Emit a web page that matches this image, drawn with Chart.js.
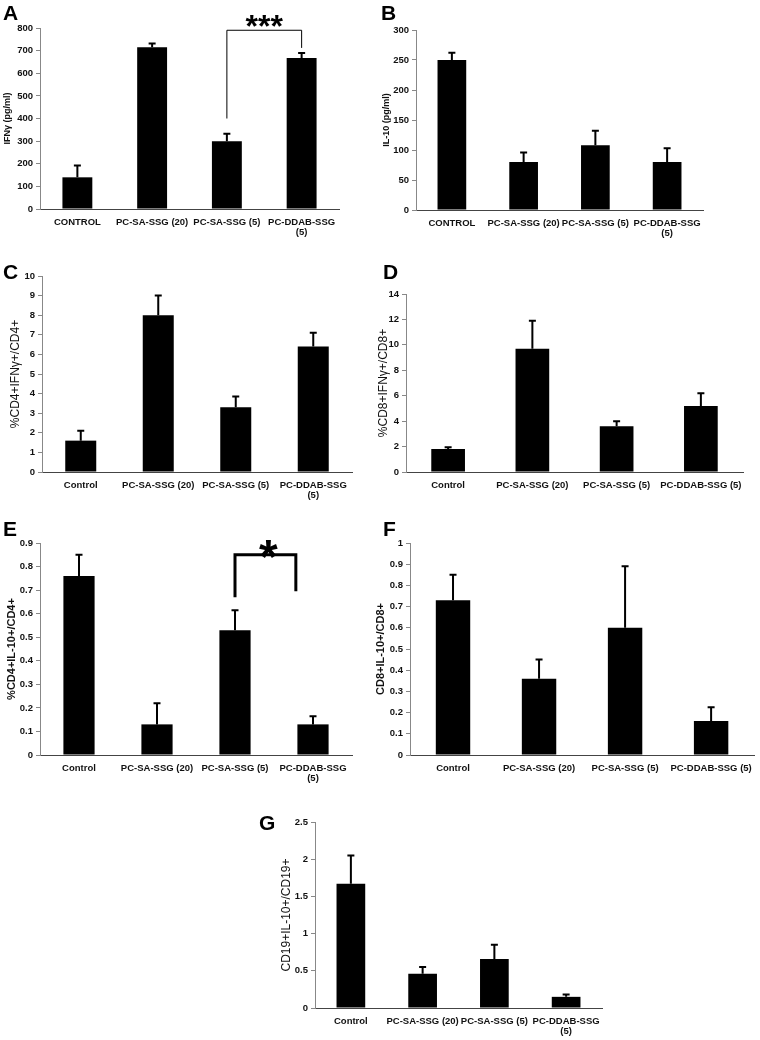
<!doctype html>
<html>
<head>
<script src="https://cdn.jsdelivr.net/npm/chart.js@4.4.0/dist/chart.umd.min.js"></script>
<style>
  body { margin:0; background:#fff; width:760px; height:1040px; position:relative; overflow:hidden;
         font-family:"Liberation Sans", Arial, sans-serif; }
  canvas { position:absolute; }
  .lt { position:absolute; font-weight:bold; font-size:21px; line-height:1; color:#000; z-index:2; }
</style>
</head>
<body>
<div class="lt" style="left:3px;top:2px">A</div>
<div class="lt" style="left:381px;top:2px">B</div>
<div class="lt" style="left:3px;top:261px">C</div>
<div class="lt" style="left:383px;top:261px">D</div>
<div class="lt" style="left:3px;top:518px">E</div>
<div class="lt" style="left:383px;top:518px">F</div>
<div class="lt" style="left:259px;top:812px">G</div>

<canvas id="cA" width="345" height="250" style="left:0;top:0"></canvas>
<canvas id="cB" width="330" height="250" style="left:380px;top:0"></canvas>
<canvas id="cC" width="365" height="255" style="left:0;top:258px"></canvas>
<canvas id="cD" width="384" height="255" style="left:376px;top:258px"></canvas>
<canvas id="cE" width="365" height="280" style="left:0;top:515px"></canvas>
<canvas id="cF" width="386" height="280" style="left:374px;top:515px"></canvas>
<canvas id="cG" width="360" height="235" style="left:255px;top:805px"></canvas>

<script>
// categories
const catsCaps  = ['CONTROL', 'PC-SA-SSG (20)', 'PC-SA-SSG (5)', ['PC-DDAB-SSG', '(5)']];
const catsWrap  = ['Control', 'PC-SA-SSG (20)', 'PC-SA-SSG (5)', ['PC-DDAB-SSG', '(5)']];
const catsFlat  = ['Control', 'PC-SA-SSG (20)', 'PC-SA-SSG (5)', 'PC-DDAB-SSG (5)'];

// means and upper error (SD) per panel
const ifnVals   = [140, 715, 300, 667];
const ifnErr    = [52, 17, 33, 23];
const il10Vals  = [250, 80, 108, 80];
const il10Err   = [12, 16, 24, 23];
const cd4IfnVals = [1.6, 8.0, 3.3, 6.4];
const cd4IfnErr  = [0.5, 1.0, 0.55, 0.7];
const cd8IfnVals = [1.8, 9.7, 3.6, 5.2];
const cd8IfnErr  = [0.15, 2.2, 0.4, 1.0];
const cd4Il10Vals = [0.76, 0.13, 0.53, 0.13];
const cd4Il10Err  = [0.09, 0.09, 0.085, 0.035];
const cd8Il10Vals = [0.73, 0.36, 0.60, 0.16];
const cd8Il10Err  = [0.12, 0.09, 0.29, 0.065];
const cd19Il10Vals = [1.67, 0.46, 0.66, 0.15];
const cd19Il10Err  = [0.38, 0.09, 0.19, 0.03];

Chart.defaults.font.family = '"Liberation Sans", Arial, sans-serif';
Chart.defaults.color = '#111';

const errPlugin = {
  id: 'errbars',
  afterDatasetsDraw(chart) {
    const ctx = chart.ctx, y = chart.scales.y;
    const ds = chart.data.datasets[0], meta = chart.getDatasetMeta(0);
    ctx.save();
    ctx.strokeStyle = '#000';
    ctx.lineWidth = 2;
    meta.data.forEach((bar, i) => {
      const top = y.getPixelForValue(ds.data[i] + ds.err[i]);
      ctx.beginPath();
      ctx.moveTo(bar.x, bar.y);
      ctx.lineTo(bar.x, top);
      ctx.moveTo(bar.x - 3.5, top);
      ctx.lineTo(bar.x + 3.5, top);
      ctx.stroke();
    });
    ctx.restore();
  }
};

function bracketPlugin(b) {
  return {
    id: 'bracket',
    afterDatasetsDraw(chart) {
      if (!b) return;
      const ctx = chart.ctx, x = chart.scales.x, y = chart.scales.y;
      const x1 = x.getPixelForValue(b.from), x2 = x.getPixelForValue(b.to);
      const yt = y.getPixelForValue(b.top);
      ctx.save();
      ctx.strokeStyle = '#000';
      ctx.lineWidth = b.lw;
      ctx.beginPath();
      ctx.moveTo(x1, y.getPixelForValue(b.leftLow));
      ctx.lineTo(x1, yt);
      ctx.lineTo(x2, yt);
      ctx.lineTo(x2, y.getPixelForValue(b.rightLow));
      ctx.stroke();
      ctx.fillStyle = '#000';
      ctx.font = 'bold ' + b.fs + 'px "Liberation Sans", Arial, sans-serif';
      ctx.textAlign = 'center';
      ctx.fillText(b.text, (x1 + x2) / 2 + b.dx, yt + b.dy);
      ctx.restore();
    }
  };
}

function makeChart(id, o) {
  new Chart(document.getElementById(id), {
    type: 'bar',
    data: {
      labels: o.labels,
      datasets: [{ data: o.values, err: o.errs, backgroundColor: '#000',
                   barPercentage: 0.4, categoryPercentage: 1 }]
    },
    options: {
      responsive: false,
      animation: false,
      layout: { padding: { top: o.top, right: o.right, left: 0, bottom: 0 } },
      plugins: { legend: { display: false }, tooltip: { enabled: false } },
      scales: {
        x: {
          grid: { display: false, drawTicks: false },
          border: { color: '#444', width: 1 },
          ticks: { font: { weight: 'bold', size: 9.5, lineHeight: 1.1 }, maxRotation: 0,
                   autoSkip: false, padding: 8, color: '#111' },
          afterFit(s) { s.height = o.xh; }
        },
        y: {
          min: 0, max: o.max,
          ticks: { stepSize: o.step, font: { weight: 'bold', size: 9.5 }, padding: 3, color: '#111',
                   callback: v => String(Number(v.toFixed(3))) },
          grid: { drawOnChartArea: false, tickLength: 4, color: '#888' },
          border: { color: '#888', width: 1 },
          title: { display: true, text: o.title, font: o.tfont, color: '#111',
                   padding: { top: o.tpad, bottom: 0 } },
          afterFit(s) { s.width = o.yw; }
        }
      }
    },
    plugins: [errPlugin, bracketPlugin(o.bracket)]
  });
}

const small = { size: 9, weight: 'bold' };
const big = { size: 12, weight: 'normal' };
const mid = { size: 11, weight: 'bold' };

makeChart('cA', { labels: catsCaps, values: ifnVals, errs: ifnErr, max: 800, step: 100,
  title: 'IFNγ (pg/ml)', tfont: small, tpad: 2, yw: 40, xh: 41, top: 28, right: 6,
  bracket: { from: 2, to: 3, top: 790, leftLow: 400, rightLow: 712, lw: 1, text: '***', fs: 32, dx: 0, dy: 7 } });

makeChart('cB', { labels: catsCaps, values: il10Vals, errs: il10Err, max: 300, step: 50,
  title: 'IL-10 (pg/ml)', tfont: small, tpad: 1, yw: 36, xh: 40, top: 30, right: 7 });

makeChart('cC', { labels: catsWrap, values: cd4IfnVals, errs: cd4IfnErr, max: 10, step: 1,
  title: '%CD4+IFNγ+/CD4+', tfont: big, tpad: 8, yw: 42, xh: 41, top: 18, right: 13 });

makeChart('cD', { labels: catsFlat, values: cd8IfnVals, errs: cd8IfnErr, max: 14, step: 2,
  title: '%CD8+IFNγ+/CD8+', tfont: big, tpad: 0, yw: 30, xh: 41, top: 36, right: 17 });

makeChart('cE', { labels: catsWrap, values: cd4Il10Vals, errs: cd4Il10Err, max: 0.9, step: 0.1,
  title: '%CD4+IL-10+/CD4+', tfont: mid, tpad: 5, yw: 40, xh: 40, top: 28, right: 13,
  bracket: { from: 2, to: 2.78, top: 0.85, leftLow: 0.67, rightLow: 0.695, lw: 3, text: '*', fs: 48, dx: 3, dy: 18 } });

makeChart('cF', { labels: catsFlat, values: cd8Il10Vals, errs: cd8Il10Err, max: 1, step: 0.1,
  title: 'CD8+IL-10+/CD8+', tfont: mid, tpad: 0, yw: 36, xh: 40, top: 28, right: 2 });

makeChart('cG', { labels: catsWrap, values: cd19Il10Vals, errs: cd19Il10Err, max: 2.5, step: 0.5,
  title: 'CD19+IL-10+/CD19+', tfont: big, tpad: 24, yw: 60, xh: 32, top: 17, right: 13 });
</script>
</body>
</html>
